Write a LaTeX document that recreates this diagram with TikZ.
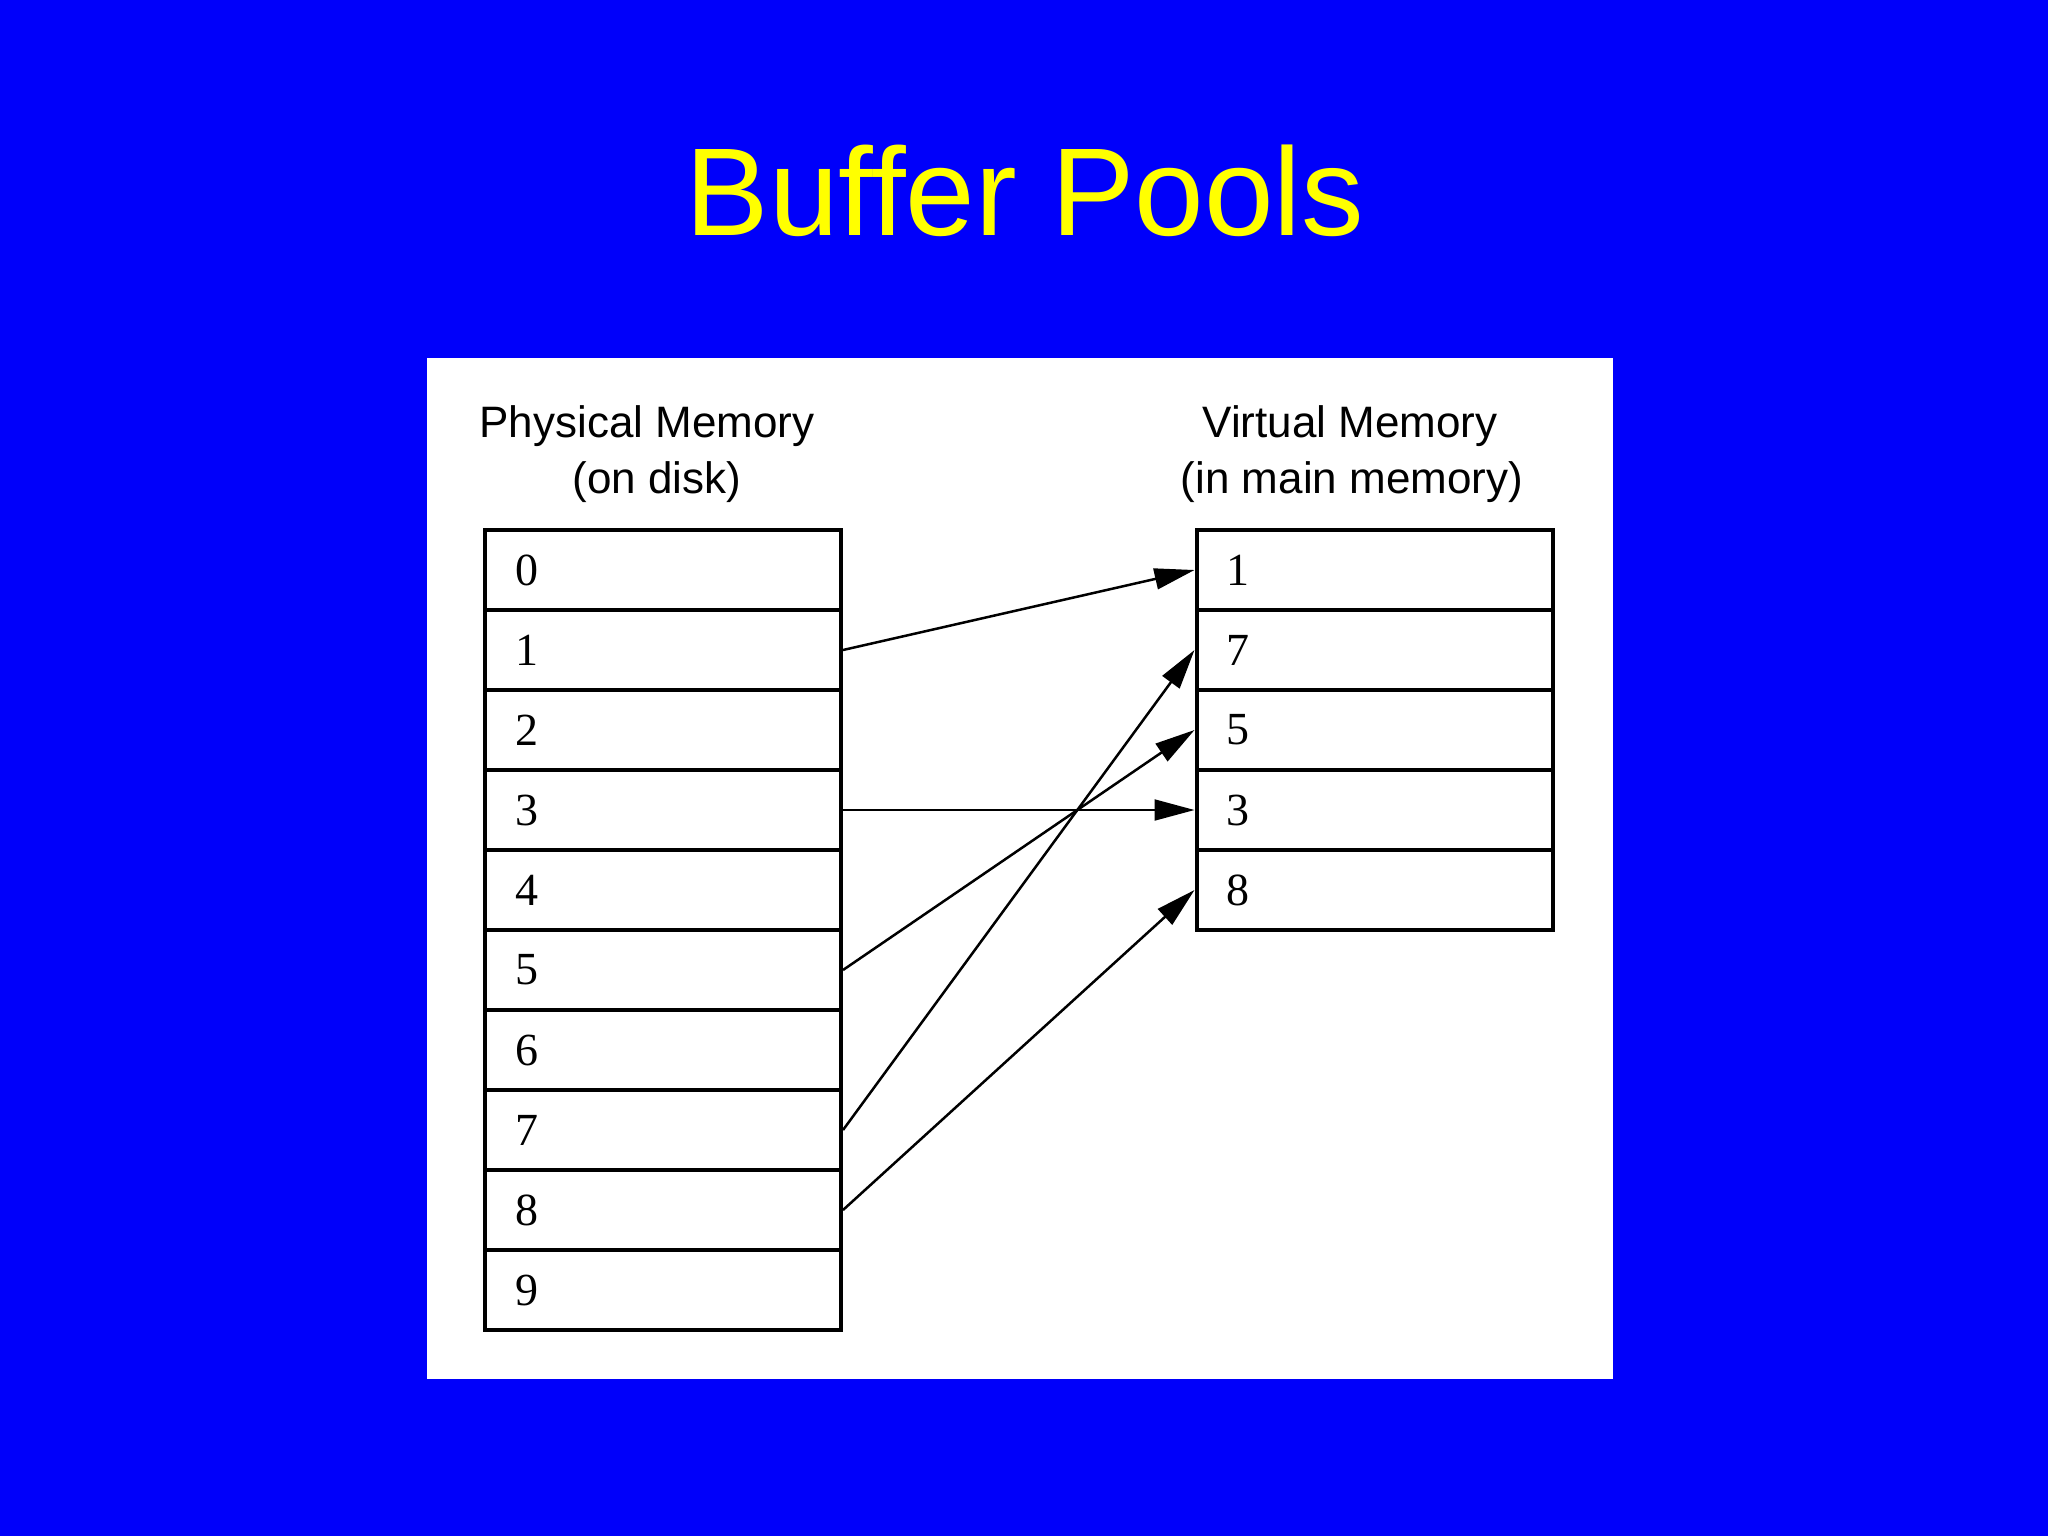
\documentclass[tikz,border=0pt]{standalone}
\usepackage{fontspec}
\setmainfont{Liberation Serif}
\newfontfamily\labelsans{Liberation Sans}
\usetikzlibrary{arrows.meta}
\definecolor{slideblue}{RGB}{0,0,250}
\definecolor{titleyellow}{RGB}{255,255,0}
\begin{document}
\begin{tikzpicture}[x=0.5pt,y=-0.5pt,
  cell/.style={draw, line width=2pt, minimum width=178pt, minimum height=40pt,
    text width=148pt, inner xsep=15pt, inner ysep=0pt, align=left,
    font=\fontsize{23}{26}\selectfont, anchor=center},
  head/.style={font=\labelsans\fontsize{22}{26}\selectfont, anchor=base, inner sep=0pt},
  link/.style={line width=1.25pt, -{Triangle[length=20pt,width=10.5pt]}}]
\useasboundingbox (0,0) rectangle (2048,1536);
\fill[slideblue] (0,0) rectangle (2048,1536);
\fill[white] (427,358) rectangle (1613,1379);
\node[font=\labelsans\fontsize{62.5}{70}\selectfont, text=titleyellow, anchor=base, inner sep=0pt] (title) at (1025,235) {Buffer Pools};
\node[head] (pm) at (647,437) {Physical Memory};
\node[head] (pmsub) at (657,493) {(on disk)};
\node[head] (vm) at (1350,437) {Virtual Memory};
\node[head] (vmsub) at (1352,493) {(in main memory)};
\foreach \i in {0,...,9} {
  \node[cell] (L\i) at (663,570+80*\i) {\i};
}
\foreach \v [count=\k from 0] in {1,7,5,3,8} {
  \node[cell] (R\v) at (1374.5,570+80*\k) {\v};
}
\draw[link] (L1.east) -- (R1.west);
\draw[link, line width=1pt] (L3.east) -- (R3.west);
\draw[link] (L5.east) -- (R5.west);
\draw[link] (L7.east) -- (R7.west);
\draw[link] (L8.east) -- (R8.west);
\end{tikzpicture}
\end{document}
